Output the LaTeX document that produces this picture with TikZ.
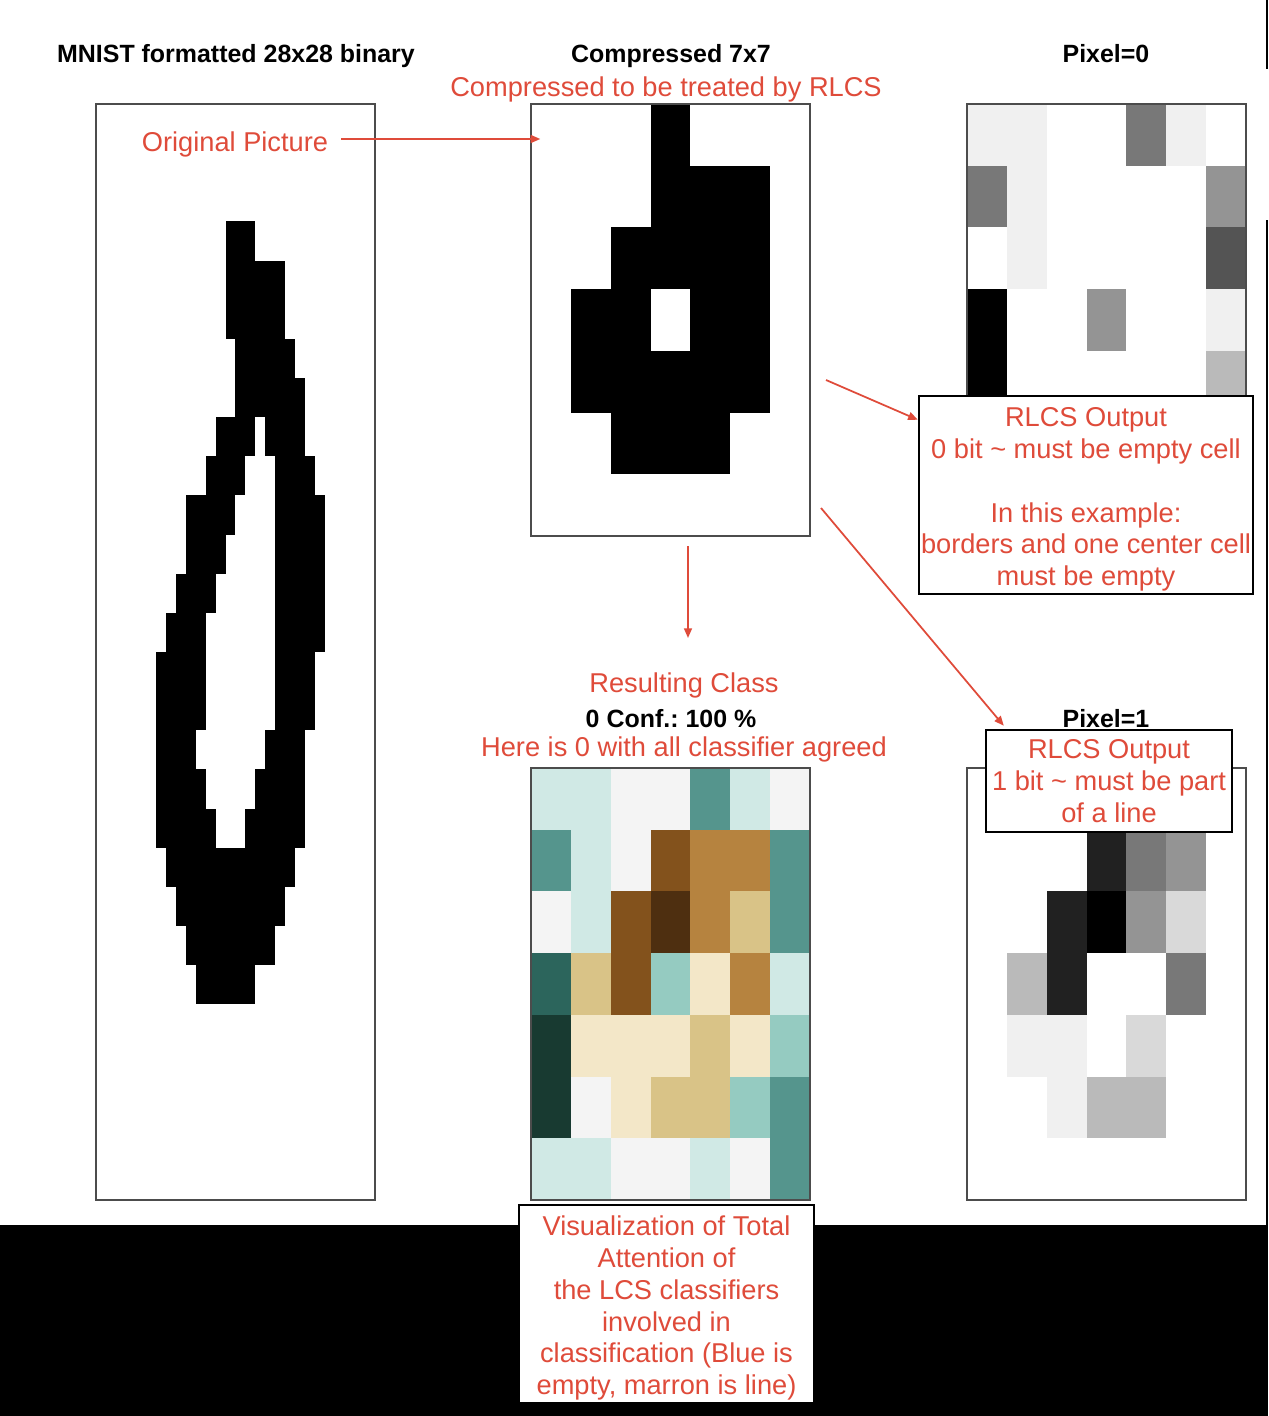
\documentclass[tikz,border=0pt]{standalone}
\usepackage{fontspec}
\setmainfont{Liberation Sans}
\usetikzlibrary{arrows.meta}
\frenchspacing
\definecolor{lcsred}{RGB}{223,75,58}
% attention colours, teal (empty) to brown (line)
\definecolor{aTD}{HTML}{183A31}
\definecolor{aTDk}{HTML}{2C655C}
\definecolor{aT}{HTML}{55958D}
\definecolor{aTL}{HTML}{95CBC1}
\definecolor{aXL}{HTML}{D0E9E5}
\definecolor{aG}{HTML}{F4F4F4}
\definecolor{aBe}{HTML}{F3E7C8}
\definecolor{aTan}{HTML}{D9C387}
\definecolor{aBL}{HTML}{B6833F}
\definecolor{aBr}{HTML}{83521C}
\definecolor{aBD}{HTML}{4E2F10}

\begin{document}
\begin{tikzpicture}[x=0.02cm, y=-0.02cm,
    title/.style={font=\fontsize{14.2}{17}\selectfont\bfseries, anchor=base, inner sep=0},
    note/.style={text=lcsred, font=\fontsize{15.5}{18.1}\selectfont, align=center},
    frame/.style={draw=black!70, line width=0.8pt, minimum width=5.58cm, inner sep=0},
    infobox/.style={note, draw=black, fill=white, line width=1.4pt, inner sep=0},
    redarr/.style={draw=lcsred, line width=1pt, -{Triangle[length=5.5pt, width=4.5pt]}}]
  \useasboundingbox (0,0) rectangle (1268,1416);
  \fill (0,1225) rectangle (1268,1416);
  \draw [line width=1.2pt] (1267,0) -- (1267,69);
  \draw [line width=1.2pt] (1267,220) -- (1267,1225);

  % 28x28 original digit
  \begin{scope}[shift={(96,104)}]
    \foreach \r/\a/\b in {3/13/15, 4/13/18, 5/13/18, 6/14/19, 7/14/20,
        8/12/15, 8/17/20, 9/11/14, 9/18/21, 10/9/13, 10/18/22,
        11/9/12, 11/18/22, 12/8/11, 12/18/22, 13/7/10, 13/18/22,
        14/6/10, 14/18/21, 15/6/10, 15/18/21, 16/6/9, 16/17/20,
        17/6/10, 17/16/20, 18/6/11, 18/15/20, 19/7/19, 20/8/18,
        21/9/17, 22/10/15}
      \fill (\a*9.964,\r*39.143) rectangle ({(\b+1)*9.964},{(\r+1)*39.143});
  \end{scope}

  % compressed 7x7
  \begin{scope}[shift={(531,104)}]
    \foreach \r/\a/\b in {0/3/3, 1/3/5, 2/2/5, 3/1/2, 3/4/5, 4/1/5, 5/2/4}
      \fill (\a*39.857,\r*61.714) rectangle ({(\b+1)*39.857},{(\r+1)*61.714});
  \end{scope}

  % pixel=0 output
  \begin{scope}[shift={(967,104)}]
    \foreach \r/\c/\k in {0/0/6, 0/1/6, 0/4/53, 0/5/6, 1/0/53, 1/1/6, 1/6/42,
        2/1/6, 2/6/67, 3/0/100, 3/3/42, 3/6/6, 4/0/100, 4/6/27}
      \fill [black!\k] (\c*39.857,\r*61.714) rectangle ++(39.857,61.714);
  \end{scope}

  % pixel=1 output
  \begin{scope}[shift={(967,768)}]
    \foreach \r/\c/\k in {1/3/87, 1/4/53, 1/5/42, 2/2/87, 2/3/100, 2/4/42, 2/5/15,
        3/1/27, 3/2/87, 3/5/53, 4/1/6, 4/2/6, 4/4/15, 5/2/6, 5/3/27, 5/4/27}
      \fill [black!\k] (\c*39.857,\r*61.714) rectangle ++(39.857,61.714);
  \end{scope}

  % total attention
  \begin{scope}[shift={(531,768)}]
    \foreach \row [count=\r from 0] in {{aXL,aXL,aG,aG,aT,aXL,aG},
        {aT,aXL,aG,aBr,aBL,aBL,aT}, {aG,aXL,aBr,aBD,aBL,aTan,aT},
        {aTDk,aTan,aBr,aTL,aBe,aBL,aXL}, {aTD,aBe,aBe,aBe,aTan,aBe,aTL},
        {aTD,aG,aBe,aTan,aTan,aTL,aT}, {aXL,aXL,aG,aG,aXL,aG,aT}}
      \foreach \col [count=\c from 0] in \row
        \fill [\col] (\c*39.857,\r*61.714) rectangle ++(39.857,61.714);
  \end{scope}

  \node [frame, minimum height=21.92cm] (mnist) at (235.5,652) {};
  \node [frame, minimum height=8.64cm] (cmp) at (670.5,320) {};
  \node [frame, minimum height=8.64cm] (px0) at (1106.5,320) {};
  \node [frame, minimum height=8.64cm] (att) at (670.5,984) {};
  \node [frame, minimum height=8.64cm] (px1) at (1106.5,984) {};

  \node [title] (t28) at (236,63) {MNIST formatted 28x28 binary};
  \node [title] (t7) at (671,63) {Compressed 7x7};
  \node [title] (tp0) at (1106,63) {Pixel=0};
  \node [note, anchor=base, inner sep=0] (tsub) at (666,96) {Compressed to be treated by RLCS};
  \node [note, anchor=base, inner sep=0] (orig) at (235,152) {Original Picture};
  \node [note, anchor=base, inner sep=0] (rc) at (684,692) {Resulting Class};
  \node [title] (conf) at (671,727) {0 Conf.: 100 \%};
  \node [note, anchor=base, inner sep=0] (here) at (684,756) {Here is 0 with all classifier agreed};
  \node [title] (tp1) at (1106,727) {Pixel=1};

  \node [infobox, minimum width=6.68cm, minimum height=3.96cm] (out0) at (1086,495)
    {\rule{0pt}{16pt}RLCS Output\\0 bit \textasciitilde{} must be empty cell\\[18.1pt]In this example:\\borders and one center cell\\must be empty};
  \node [infobox, minimum width=4.92cm, minimum height=2.04cm] (out1) at (1109,781)
    {RLCS Output\\1 bit \textasciitilde{} must be part\\of a line};
  \node [infobox, minimum width=5.9cm, minimum height=3.96cm] (cap) at (666.5,1304)
    {\rule{0pt}{16pt}Visualization of Total\\Attention of\\the LCS classifiers\\involved in\\classification (Blue is\\empty, marron is line)};

  \coordinate (a1) at (341,139);
  \coordinate (a2) at (826,380);
  \coordinate (a3) at (821,508);
  \coordinate (a4) at (688,546);
  \coordinate (a4e) at (688,638);
  \draw [redarr, shorten >=-0.2cm] (a1) -- (a1 -| cmp.west);
  \draw [redarr] (a2) -- ([yshift=-0.5cm]out0.north west);
  \draw [redarr] (a3) -- ([xshift=0.38cm, yshift=0.06cm]out1.north west);
  \draw [redarr] (a4) -- (a4e);
\end{tikzpicture}
\end{document}
